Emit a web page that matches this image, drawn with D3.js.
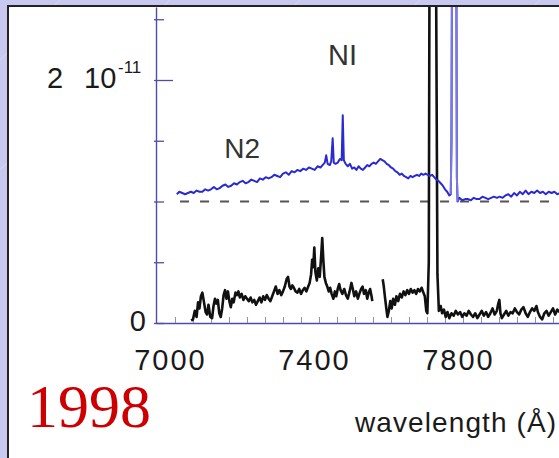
<!DOCTYPE html>
<html>
<head>
<meta charset="utf-8">
<script src="https://cdn.jsdelivr.net/npm/d3@7"></script>
<style>
  html, body { margin: 0; padding: 0; background: #c8c8f0; }
  svg { display: block; }
  text { font-family: "Liberation Sans", Arial, Helvetica, sans-serif; }
</style>
</head>
<body>
<script>
// ---------- data (flux in units of 1e-11) ----------
const xTickLabels = [7000, 7400, 7800];
const xMinorStep = 50;
const yTickValues = [0, 0.5, 1, 1.5, 2, 2.5];
const yTickLabels = ["0", "2 10-11"];
const baselineLevel = 1.0;
const yearLabel = "1998";
const xTitle = "wavelength (Å)";
const lineLabels = [{ text: "N2", lambda: 7137, value: 1.36 }, { text: "NI", lambda: 7425, value: 2.12 }];

// upper (blue) spectrum, offset by baselineLevel
const blueSpectrum = [
 [7005,1.06],[7012,1.08],[7020,1.07],[7028,1.06],[7036,1.07],[7044,1.08],[7052,1.07],[7060,1.09],[7068,1.08],[7076,1.08],
 [7084,1.10],[7092,1.09],[7100,1.10],[7108,1.12],[7116,1.10],[7124,1.11],[7132,1.13],[7140,1.14],[7148,1.12],[7156,1.13],
 [7164,1.15],[7172,1.14],[7180,1.16],[7188,1.17],[7196,1.15],[7204,1.16],[7212,1.18],[7220,1.17],[7228,1.16],[7236,1.19],
 [7244,1.18],[7252,1.20],[7260,1.19],[7268,1.20],[7276,1.22],[7284,1.21],[7292,1.20],[7300,1.23],[7308,1.24],[7316,1.22],
 [7324,1.25],[7332,1.24],[7340,1.26],[7348,1.25],[7356,1.27],[7364,1.26],[7372,1.28],[7380,1.27],[7388,1.26],[7396,1.29],
 [7404,1.28],[7410,1.30],[7416,1.32],[7420,1.38],[7424,1.31],[7430,1.30],[7434,1.33],[7438,1.52],[7441,1.32],[7446,1.31],
 [7452,1.32],[7458,1.35],[7463,1.34],[7466,1.71],[7469,1.34],[7474,1.31],[7480,1.29],[7486,1.31],[7492,1.27],[7498,1.28],
 [7504,1.26],[7510,1.29],[7516,1.27],[7522,1.26],[7528,1.28],[7534,1.30],[7540,1.29],[7546,1.31],[7552,1.32],[7558,1.31],
 [7564,1.33],[7570,1.35],[7576,1.34],[7582,1.33],[7588,1.31],[7594,1.30],[7600,1.28],[7606,1.27],[7612,1.25],[7618,1.24],
 [7624,1.22],[7630,1.23],[7636,1.21],[7642,1.20],[7648,1.19],[7654,1.21],[7660,1.20],[7666,1.21],[7672,1.22],[7678,1.21],
 [7684,1.23],[7690,1.22],[7696,1.23],[7702,1.22],[7708,1.21],[7714,1.22],[7720,1.20],[7726,1.18],[7732,1.17],[7738,1.15],
 [7744,1.13],[7750,1.10],[7756,1.08],[7762,1.05],[7766,1.06],[7768,1.5],[7770,3.5],[7781,3.5],[7783,1.2],[7785,1.00],
 [7790,1.03],[7798,1.01],[7806,1.02],[7814,1.02],[7822,1.01],[7830,1.03],[7838,1.02],[7846,1.02],[7854,1.04],[7862,1.03],
 [7870,1.02],[7878,1.03],[7886,1.04],[7894,1.03],[7902,1.04],[7910,1.03],[7918,1.05],[7926,1.06],[7934,1.04],[7942,1.07],
 [7950,1.05],[7958,1.08],[7966,1.06],[7974,1.09],[7982,1.06],[7990,1.08],[7998,1.07],[8006,1.09],[8014,1.07],[8022,1.08],
 [8030,1.06],[8038,1.08],[8046,1.07],[8054,1.08],[8062,1.06],[8070,1.07]
];

// lower (black) spectrum; null marks the data gap
const blackSpectrum = [
 [7045,0.02],[7050,0.03],[7055,0.10],[7060,0.05],[7064,0.17],[7068,0.12],[7072,0.22],[7076,0.25],[7080,0.18],[7085,0.09],
 [7089,0.07],[7093,0.15],[7098,0.05],[7103,0.04],[7107,0.14],[7111,0.20],[7115,0.16],[7119,0.19],[7123,0.08],[7127,0.05],
 [7131,0.12],[7135,0.23],[7139,0.27],[7143,0.20],[7147,0.26],[7151,0.18],[7155,0.13],[7159,0.20],[7163,0.17],[7168,0.25],
 [7172,0.23],[7176,0.26],[7180,0.21],[7185,0.24],[7190,0.19],[7195,0.22],[7200,0.20],[7205,0.18],[7210,0.21],[7215,0.17],
 [7220,0.19],[7225,0.15],[7230,0.18],[7235,0.21],[7240,0.17],[7245,0.22],[7250,0.19],[7255,0.23],[7260,0.20],[7265,0.18],
 [7270,0.22],[7275,0.26],[7280,0.30],[7285,0.24],[7290,0.27],[7295,0.23],[7300,0.26],[7305,0.30],[7310,0.36],[7314,0.38],
 [7318,0.30],[7322,0.28],[7326,0.31],[7330,0.29],[7335,0.26],[7340,0.25],[7345,0.28],[7350,0.24],[7355,0.27],[7360,0.29],
 [7365,0.26],[7370,0.30],[7374,0.33],[7378,0.40],[7381,0.52],[7384,0.46],[7387,0.62],[7390,0.42],[7394,0.35],[7398,0.45],
 [7402,0.38],[7406,0.55],[7409,0.70],[7412,0.52],[7415,0.38],[7419,0.33],[7423,0.30],[7427,0.26],[7431,0.29],[7435,0.24],
 [7440,0.20],[7444,0.26],[7448,0.22],[7452,0.28],[7456,0.32],[7460,0.27],[7465,0.24],[7470,0.28],[7475,0.23],[7480,0.20],
 [7485,0.26],[7490,0.33],[7494,0.28],[7498,0.22],[7503,0.26],[7508,0.20],[7512,0.24],[7517,0.28],[7521,0.30],[7525,0.24],
 [7530,0.27],[7534,0.20],[7538,0.25],[7542,0.28],[7546,0.22],[7548,0.18],[7560,null],
 [7577,0.36],[7580,0.30],[7583,0.22],[7587,0.12],[7590,0.05],[7594,0.10],[7598,0.18],[7602,0.12],[7606,0.20],[7611,0.15],
 [7615,0.22],[7620,0.18],[7625,0.24],[7630,0.21],[7635,0.26],[7640,0.23],[7645,0.27],[7650,0.24],[7655,0.28],[7660,0.25],
 [7665,0.27],[7670,0.24],[7675,0.28],[7680,0.26],[7685,0.29],[7690,0.25],[7694,0.22],[7698,0.10],[7701,0.08],[7705,0.5],
 [7707,3.0],[7725,3.0],[7729,0.4],[7733,0.10],[7738,0.14],[7742,0.08],[7747,0.11],[7752,0.05],[7757,0.09],[7762,0.04],
 [7768,0.08],[7774,0.06],[7780,0.10],[7786,0.07],[7792,0.09],[7798,0.05],[7804,0.08],[7810,0.06],[7816,0.10],[7822,0.07],
 [7828,0.05],[7834,0.08],[7840,0.04],[7846,0.07],[7852,0.10],[7858,0.06],[7864,0.09],[7870,0.05],[7876,0.08],[7882,0.12],
 [7888,0.07],[7894,0.10],[7898,0.16],[7901,0.19],[7904,0.08],[7908,0.04],[7914,0.07],[7920,0.10],[7926,0.06],[7932,0.09],
 [7938,0.08],[7944,0.12],[7950,0.09],[7956,0.07],[7962,0.11],[7968,0.13],[7974,0.08],[7980,0.05],[7986,0.09],[7992,0.12],
 [7998,0.10],[8004,0.14],[8008,0.09],[8014,0.05],[8020,0.03],[8026,0.08],[8032,0.10],[8038,0.06],[8044,0.09],[8050,0.12],
 [8056,0.07],[8062,0.11],[8068,0.09]
];

// ---------- drawing ----------
const W = 559, H = 458;
const svg = d3.select("body").append("svg").attr("width", W).attr("height", H);

// lavender slide background with faint diagonal streaks
svg.append("rect").attr("width", W).attr("height", H).attr("fill", "#c8c8f0");
const streaks = svg.append("g").attr("stroke", "#dadaf8").attr("stroke-width", 1).attr("opacity", 0.8);
[-40, 60, 170, 300, 420, 540].forEach(s => {
  streaks.append("line").attr("x1", s - 200).attr("y1", 200).attr("x2", s + 200).attr("y2", -200);
});

// white panel with black frame on left/top
svg.append("rect").attr("x", 8).attr("y", 6).attr("width", W).attr("height", H).attr("fill", "#ffffff");
svg.append("line").attr("x1", 8).attr("y1", 5).attr("x2", 8).attr("y2", H).attr("stroke", "#222").attr("stroke-width", 2);
svg.append("line").attr("x1", 7).attr("y1", 6).attr("x2", W).attr("y2", 6).attr("stroke", "#222").attr("stroke-width", 2);

const x = d3.scaleLinear().domain([6947.2, 8066.7]).range([156, 559]);
const y = d3.scaleLinear().domain([0, 2.6]).range([323, 7.1]);

svg.append("defs").append("clipPath").attr("id", "plotclip")
  .append("rect").attr("x", 156).attr("y", 7).attr("width", W - 156).attr("height", 320);

const axisColor = "#4e4eaa";

// x axis
const minorTicks = d3.range(7000, 8067, xMinorStep);
const xAxis = d3.axisBottom(x).tickValues(minorTicks).tickSizeInner(-6).tickSizeOuter(0).tickFormat(() => "");
const gx = svg.append("g").attr("transform", `translate(0,${y(0)})`).call(xAxis);
gx.select(".domain").attr("stroke", axisColor).attr("stroke-width", 1.6);
gx.selectAll(".tick line").attr("stroke", "#8c8cc8").attr("stroke-width", 1);

svg.append("g").selectAll("text").data(xTickLabels).join("text")
  .attr("x", d => x(d) - 4.5).attr("y", 370)
  .attr("text-anchor", "middle").attr("font-size", 29).attr("letter-spacing", 2)
  .attr("fill", "#1a1a1a").text(d => d);

// y axis
const yAxis = d3.axisLeft(y).tickValues(yTickValues).tickSizeInner(-8).tickSizeOuter(0).tickFormat(() => "");
const gy = svg.append("g").attr("transform", "translate(156,0)").call(yAxis);
gy.select(".domain").attr("stroke", axisColor).attr("stroke-width", 1.4);
gy.selectAll(".tick line").attr("stroke", axisColor).attr("stroke-width", 1.3)
  .attr("x1", -2).attr("x2", d => d === 2 ? 17 : 8);

// y labels
svg.append("text").attr("x", 146).attr("y", 331).attr("text-anchor", "end")
  .attr("font-size", 29).attr("fill", "#1a1a1a").text(yTickLabels[0]);
const yl = svg.append("text").attr("font-size", 29).attr("fill", "#1a1a1a");
yl.append("tspan").attr("x", 47).attr("y", y(2) + 8).text("2");
yl.append("tspan").attr("x", 84).attr("y", y(2) + 8).text("10");
yl.append("tspan").attr("x", 118).attr("y", y(2) - 7).attr("font-size", 17).text("-11");

// dashed baseline for upper spectrum
svg.append("line")
  .attr("x1", x(7014)).attr("x2", W).attr("y1", y(baselineLevel)).attr("y2", y(baselineLevel))
  .attr("stroke", "#555").attr("stroke-width", 2).attr("stroke-dasharray", "9,11");

const line = d3.line().defined(d => d[1] !== null).x(d => x(d[0])).y(d => y(d[1]));
const plot = svg.append("g").attr("clip-path", "url(#plotclip)");

plot.append("path").datum(blackSpectrum).attr("d", line)
  .attr("fill", "none").attr("stroke", "#111").attr("stroke-width", 2.6).attr("stroke-linejoin", "round");

plot.append("path").datum(blueSpectrum).attr("d", line)
  .attr("fill", "none").attr("stroke", "#2a2ad2").attr("stroke-width", 2).attr("stroke-linejoin", "round");
// lighter rendering of the saturated blue spike
plot.append("path").datum(blueSpectrum.filter(d => d[0] >= 7766 && d[0] <= 7785)).attr("d", line)
  .attr("fill", "none").attr("stroke", "#7878e6").attr("stroke-width", 2);

// line labels
svg.append("g").selectAll("text").data(lineLabels).join("text")
  .attr("x", d => x(d.lambda)).attr("y", d => y(d.value))
  .attr("font-size", d => d.text === "N2" ? 28 : 29).attr("fill", "#333")
  .text(d => d.text);

// axis title
svg.append("text").attr("x", 355).attr("y", 432).attr("font-size", 28).attr("letter-spacing", 1.1)
  .attr("fill", "#1a1a1a").text(xTitle);

// year
svg.append("text").attr("x", 27).attr("y", 427)
  .style("font-family", "'Liberation Serif', 'Times New Roman', serif")
  .attr("font-size", 62).attr("fill", "#cc0000").text(yearLabel);
</script>
</body>
</html>
